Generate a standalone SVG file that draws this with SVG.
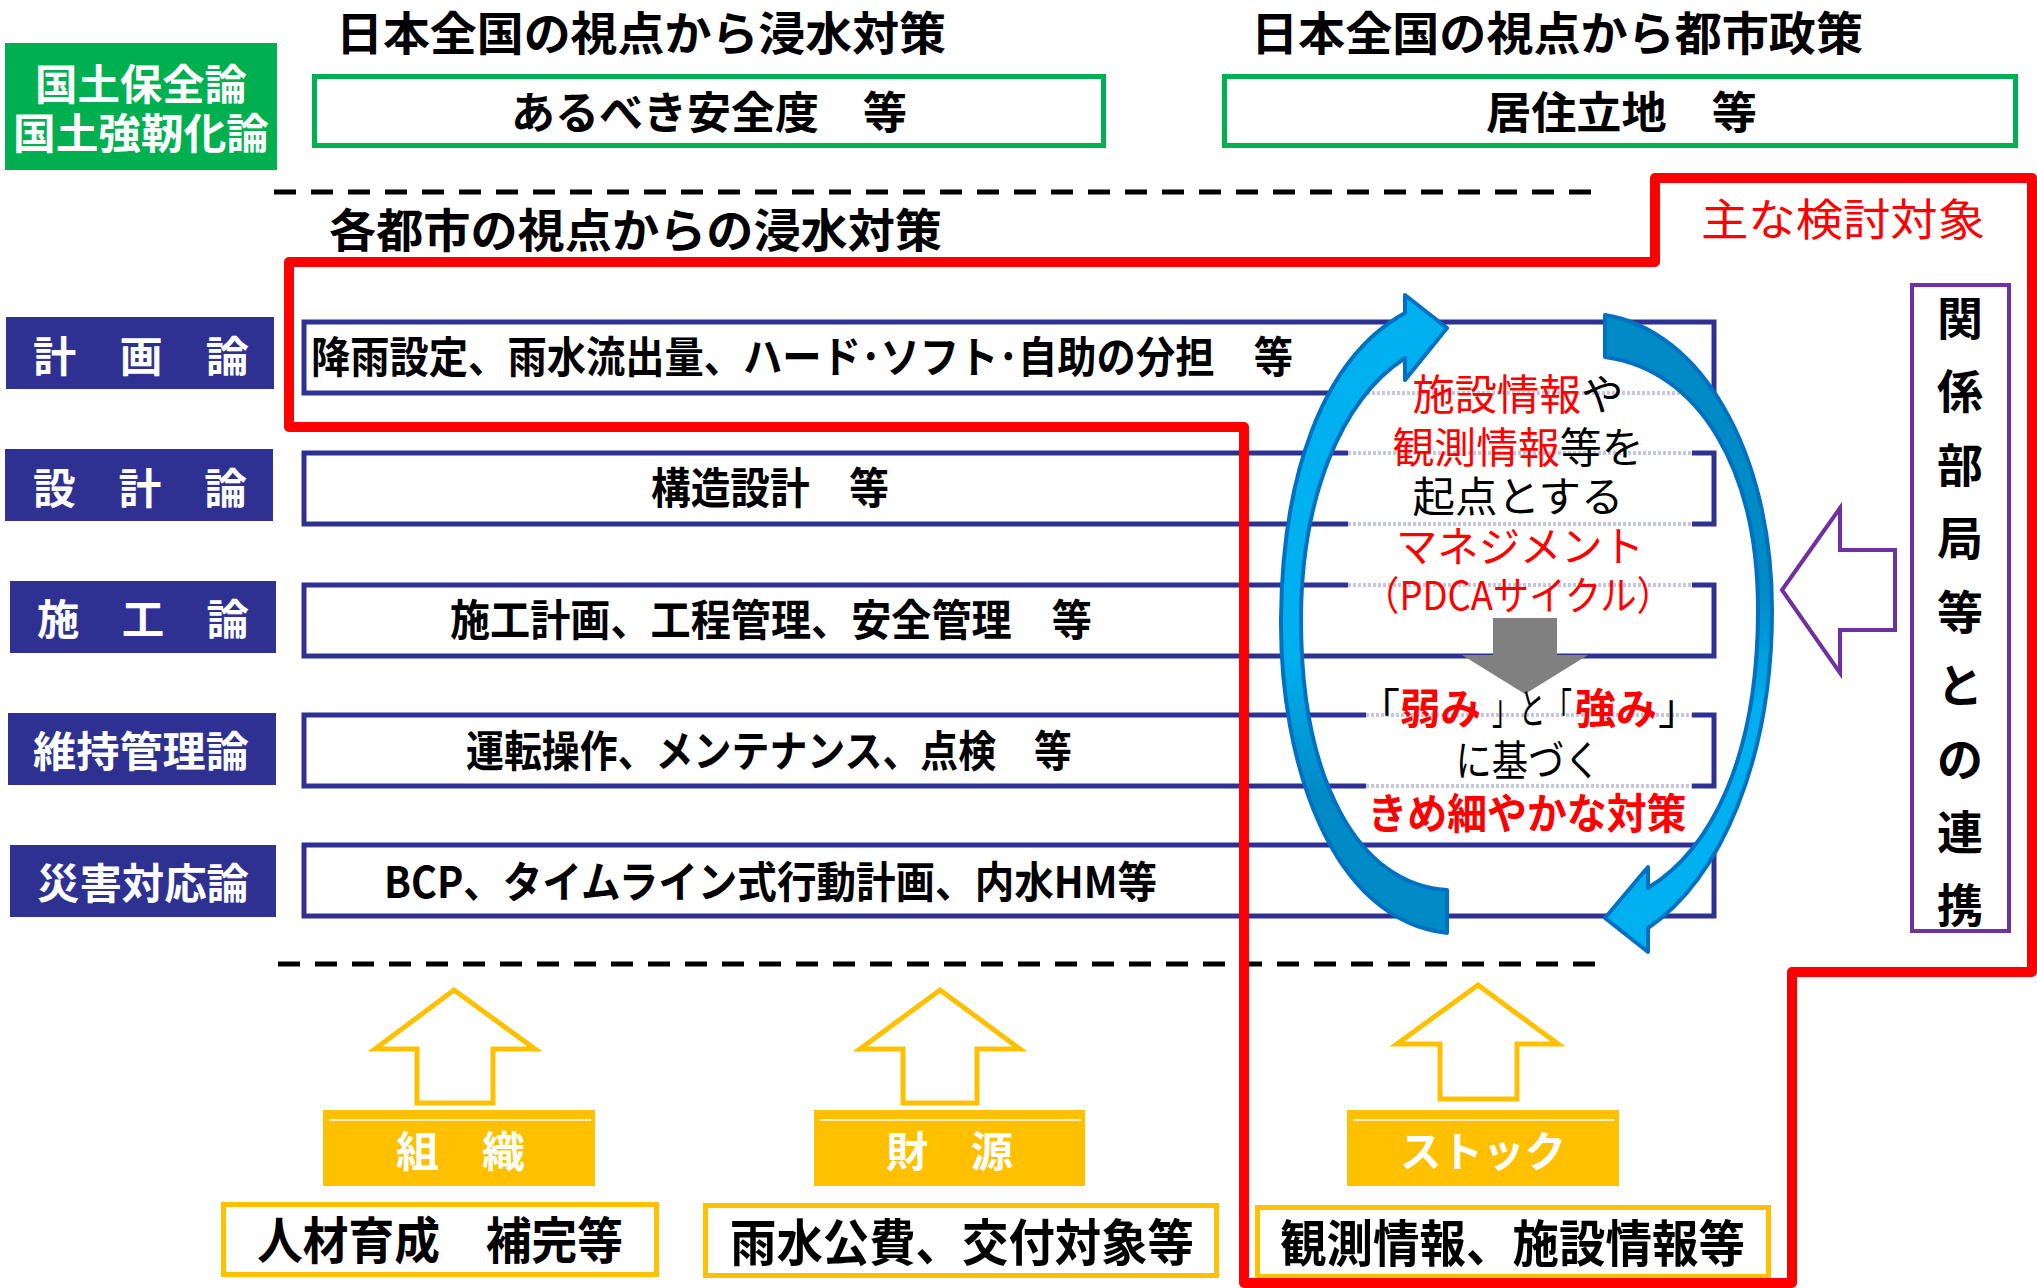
<svg xmlns="http://www.w3.org/2000/svg" width="2037" height="1288" viewBox="0 0 2037 1288">
<defs>
<style>
.t{font-family:"Noto Sans CJK JP","Noto Sans",sans-serif;}
.b{font-weight:bold;}
.w{fill:#fff;}
.k{fill:#000;}
.r{fill:#FF0000;}
.navy{fill:#2E3192;}
.row{fill:#fff;stroke:#2E3192;stroke-width:5;}
.ybox{fill:#fff;stroke:#FFC000;stroke-width:5;}
.yfill{fill:#FFC000;}
.yarrow{fill:#fff;stroke:#FFC000;stroke-width:5;}
.dash{stroke:#000;stroke-width:5;stroke-dasharray:22 15;fill:none;}
.cov{stroke:#fff;stroke-width:7;}
.dot{stroke:#C6C6E2;stroke-width:4;stroke-dasharray:3 2;}
</style>
<linearGradient id="gL" gradientUnits="userSpaceOnUse" x1="0" y1="313" x2="0" y2="933">
<stop offset="0" stop-color="#00B0F0"/><stop offset="0.55" stop-color="#00B0F0"/><stop offset="0.78" stop-color="#008AC6"/><stop offset="1" stop-color="#008AC6"/>
</linearGradient>
<linearGradient id="gR" gradientUnits="userSpaceOnUse" x1="0" y1="315" x2="0" y2="952">
<stop offset="0" stop-color="#008AC6"/><stop offset="0.42" stop-color="#008AC6"/><stop offset="0.62" stop-color="#00B0F0"/><stop offset="1" stop-color="#00B0F0"/>
</linearGradient>
</defs>
<rect width="2037" height="1288" fill="#fff"/>

<!-- top national level -->
<g id="kokudo">
<rect x="5" y="43" width="272" height="127" fill="#00B050"/>
<text class="t b w" x="141" y="100" font-size="42" text-anchor="middle" textLength="212" lengthAdjust="spacingAndGlyphs">国土保全論</text>
<text class="t b w" x="141" y="149" font-size="42" text-anchor="middle" textLength="256" lengthAdjust="spacingAndGlyphs">国土強靭化論</text>
</g>
<g id="title-flood">
<text class="t b k" x="336" y="50" font-size="46" textLength="610" lengthAdjust="spacingAndGlyphs">日本全国の視点から浸水対策</text>
</g>
<g id="title-city">
<text class="t b k" x="1251" y="50" font-size="46" textLength="612" lengthAdjust="spacingAndGlyphs">日本全国の視点から都市政策</text>
</g>
<g id="anzendo">
<rect x="314.5" y="76.5" width="789" height="69" fill="#fff" stroke="#00B050" stroke-width="5"/>
<text class="t b k" x="511" y="129" font-size="44" textLength="396" lengthAdjust="spacingAndGlyphs">あるべき安全度　等</text>
</g>
<g id="kyoju">
<rect x="1224.5" y="76.5" width="791" height="69" fill="#fff" stroke="#00B050" stroke-width="5"/>
<text class="t b k" x="1486" y="129" font-size="44" textLength="271" lengthAdjust="spacingAndGlyphs">居住立地　等</text>
</g>

<g id="dividers">
<line class="dash" x1="274" y1="192" x2="1602" y2="192"/>
<line class="dash" x1="278" y1="964" x2="1606" y2="964"/>
</g>

<g id="title-city-flood">
<text class="t b k" x="329" y="247" font-size="46" textLength="613" lengthAdjust="spacingAndGlyphs">各都市の視点からの浸水対策</text>
</g>

<!-- rows -->
<g id="row-keikaku">
<rect class="navy" x="6" y="317" width="268" height="72"/>
<text class="t b w" x="33" y="372" font-size="42" textLength="216" lengthAdjust="spacingAndGlyphs">計　画　論</text>
<rect class="row" x="304" y="322" width="1410" height="71"/>
<text class="t b k" x="311" y="373" font-size="43" textLength="982" lengthAdjust="spacingAndGlyphs">降雨設定、雨水流出量、ハード･ソフト･自助の分担　等</text>
</g>
<g id="row-sekkei">
<rect class="navy" x="5" y="449" width="268" height="72"/>
<text class="t b w" x="33" y="504" font-size="42" textLength="214" lengthAdjust="spacingAndGlyphs">設　計　論</text>
<rect class="row" x="304" y="453" width="1410" height="71"/>
<text class="t b k" x="651" y="504" font-size="43" textLength="238" lengthAdjust="spacingAndGlyphs">構造設計　等</text>
</g>
<g id="row-seko">
<rect class="navy" x="10" y="581" width="266" height="72"/>
<text class="t b w" x="37" y="635" font-size="42" textLength="212" lengthAdjust="spacingAndGlyphs">施　工　論</text>
<rect class="row" x="304" y="585" width="1410" height="71"/>
<text class="t b k" x="450" y="636" font-size="43" textLength="642" lengthAdjust="spacingAndGlyphs">施工計画、工程管理、安全管理　等</text>
</g>
<g id="row-iji">
<rect class="navy" x="8" y="713" width="268" height="72"/>
<text class="t b w" x="33" y="767" font-size="42" textLength="216" lengthAdjust="spacingAndGlyphs">維持管理論</text>
<rect class="row" x="304" y="715" width="1410" height="71"/>
<text class="t b k" x="466" y="767" font-size="43" textLength="606" lengthAdjust="spacingAndGlyphs">運転操作、メンテナンス、点検　等</text>
</g>
<g id="row-saigai">
<rect class="navy" x="10" y="845" width="266" height="72"/>
<text class="t b w" x="37" y="899" font-size="42" textLength="212" lengthAdjust="spacingAndGlyphs">災害対応論</text>
<rect class="row" x="304" y="845" width="1410" height="71"/>
<text class="t b k" x="384" y="898" font-size="43" textLength="773" lengthAdjust="spacingAndGlyphs">BCP、タイムライン式行動計画、内水HM等</text>
</g>

<!-- PDCA area -->
<g id="pdca">
<g id="cover">
<line class="cov" x1="1362" y1="393" x2="1684" y2="393"/>
<line class="cov" x1="1348" y1="453" x2="1692" y2="453"/>
<line class="cov" x1="1348" y1="524" x2="1692" y2="524"/>
<line class="cov" x1="1348" y1="585" x2="1692" y2="585"/>
<line class="cov" x1="1366" y1="715" x2="1692" y2="715"/>
<line class="cov" x1="1366" y1="786" x2="1692" y2="786"/>
<line class="dot" x1="1362" y1="393" x2="1684" y2="393"/>
<line class="dot" x1="1348" y1="453" x2="1692" y2="453"/>
<line class="dot" x1="1348" y1="524" x2="1692" y2="524"/>
<line class="dot" x1="1348" y1="585" x2="1692" y2="585"/>
<line class="dot" x1="1366" y1="715" x2="1692" y2="715"/>
<line class="dot" x1="1366" y1="786" x2="1692" y2="786"/>
</g>
<polygon points="1493,618 1557,618 1557,655 1588,655 1525,694 1462,655 1493,655" fill="#808080"/>
<text class="t" x="1518" y="410" font-size="42" text-anchor="middle" textLength="211" lengthAdjust="spacingAndGlyphs"><tspan class="r">施設情報</tspan><tspan class="k">や</tspan></text>
<text class="t" x="1518" y="463" font-size="42" text-anchor="middle" textLength="251" lengthAdjust="spacingAndGlyphs"><tspan class="r">観測情報</tspan><tspan class="k">等を</tspan></text>
<text class="t k" x="1518" y="512" font-size="42" text-anchor="middle" textLength="211" lengthAdjust="spacingAndGlyphs">起点とする</text>
<text class="t r" x="1520" y="562" font-size="42" text-anchor="middle" textLength="248" lengthAdjust="spacingAndGlyphs">マネジメント</text>
<text class="t r" x="1518" y="610" font-size="40" text-anchor="middle" textLength="310" lengthAdjust="spacingAndGlyphs">（PDCAサイクル）</text>
<text class="t k" x="1358" y="724" font-size="42">「</text>
<text class="t b r" x="1400" y="724" font-size="42" textLength="81" lengthAdjust="spacingAndGlyphs">弱み</text>
<text class="t k" x="1492" y="724" font-size="42" textLength="80" lengthAdjust="spacingAndGlyphs">」と「</text>
<text class="t b r" x="1575" y="724" font-size="42" textLength="82" lengthAdjust="spacingAndGlyphs">強み</text>
<text class="t k" x="1658" y="724" font-size="42">」</text>
<text class="t k" x="1528" y="776" font-size="42" text-anchor="middle" textLength="145" lengthAdjust="spacingAndGlyphs">に基づく</text>
<text class="t b r" x="1527" y="829" font-size="42" text-anchor="middle" textLength="319" lengthAdjust="spacingAndGlyphs">きめ細やかな対策</text>
</g>

<g id="cycle-arrows">
<path d="M1447,933 C1330,920 1280,760 1281,620 C1282,480 1320,360 1405,313 L1405,295 L1447,328 L1405,380 L1405,358 C1340,400 1301,500 1301,620 C1301,780 1358,885 1447,890 Z" fill="url(#gL)" stroke="#0070C0" stroke-width="4" stroke-linejoin="round"/>
<path d="M1605,315 C1700,330 1772,450 1772,610 C1772,760 1720,880 1648,928 L1648,952 L1605,918 L1648,867 L1648,888 C1710,850 1758,760 1758,610 C1758,470 1700,370 1605,357 Z" fill="url(#gR)" stroke="#0070C0" stroke-width="4" stroke-linejoin="round"/>
</g>

<!-- related departments -->
<g id="kankei">
<rect x="1912" y="285" width="97" height="646" fill="#fff" stroke="#7030A0" stroke-width="4"/>
<g class="t b k" font-size="46" text-anchor="middle">
<text x="1960" y="335">関</text>
<text x="1960" y="408">係</text>
<text x="1960" y="482">部</text>
<text x="1960" y="555">局</text>
<text x="1960" y="629">等</text>
<text x="1960" y="702">と</text>
<text x="1960" y="776">の</text>
<text x="1960" y="849">連</text>
<text x="1960" y="922">携</text>
</g>
</g>
<g id="kankei-arrow">
<polygon points="1782,590 1840,508 1840,550 1895,550 1895,630 1840,630 1840,673" fill="#fff" stroke="#7030A0" stroke-width="4"/>
</g>

<!-- bottom -->
<g id="soshiki">
<polygon class="yarrow" points="454,990 535,1049 493,1049 493,1103 417,1103 417,1049 375,1049"/>
<rect class="yfill" x="323" y="1110" width="272" height="76"/>
<line x1="329" y1="1120" x2="591" y2="1120" stroke="#fff" stroke-width="1.5"/>
<text class="t b w" x="396" y="1167" font-size="42" textLength="129" lengthAdjust="spacingAndGlyphs">組　織</text>
<rect class="ybox" x="223.5" y="1204.5" width="433" height="70"/>
<text class="t b k" x="257" y="1259" font-size="50" textLength="366" lengthAdjust="spacingAndGlyphs">人材育成　補完等</text>
</g>
<g id="zaigen">
<polygon class="yarrow" points="940,990 1020,1049 977,1049 977,1103 903,1103 903,1049 860,1049"/>
<rect class="yfill" x="814" y="1110" width="271" height="76"/>
<line x1="820" y1="1120" x2="1081" y2="1120" stroke="#fff" stroke-width="1.5"/>
<text class="t b w" x="886" y="1167" font-size="42" textLength="127" lengthAdjust="spacingAndGlyphs">財　源</text>
<rect class="ybox" x="705.5" y="1205.5" width="511" height="70"/>
<text class="t b k" x="730" y="1261" font-size="50" textLength="464" lengthAdjust="spacingAndGlyphs">雨水公費、交付対象等</text>
</g>
<g id="stock">
<polygon class="yarrow" points="1478,985 1558,1044 1517,1044 1517,1099 1440,1099 1440,1044 1397,1044"/>
<rect class="yfill" x="1347" y="1110" width="272" height="76"/>
<line x1="1353" y1="1120" x2="1614" y2="1120" stroke="#fff" stroke-width="1.5"/>
<text class="t b w" x="1400" y="1167" font-size="42" textLength="166" lengthAdjust="spacingAndGlyphs">ストック</text>
<rect class="ybox" x="1257.5" y="1207.5" width="511" height="69"/>
<text class="t b k" x="1280" y="1262" font-size="50" textLength="465" lengthAdjust="spacingAndGlyphs">観測情報、施設情報等</text>
</g>

<!-- main scope outline -->
<g id="scope">
<path d="M289,262 L1655,262 L1655,178 L2032,178 L2032,972 L1792,972 L1792,1283 L1244,1283 L1244,427 L289,427 Z" fill="none" stroke="#FF0000" stroke-width="10" stroke-linejoin="round"/>
<text class="t r" x="1701" y="236" font-size="44" textLength="284" lengthAdjust="spacingAndGlyphs">主な検討対象</text>
</g>
</svg>
